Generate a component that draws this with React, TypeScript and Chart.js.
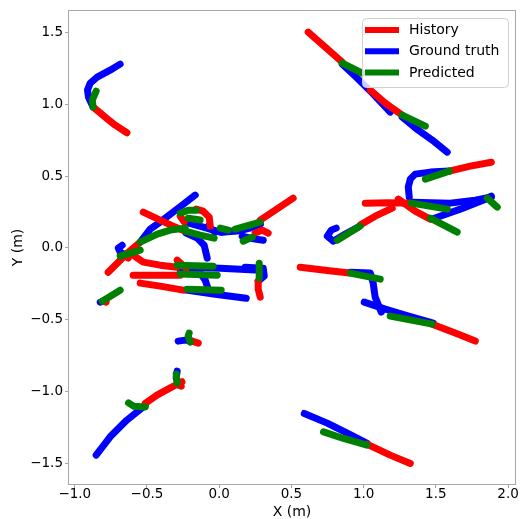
import React, { useEffect, useRef } from 'react';
import { Chart, registerables } from 'chart.js';

Chart.register(...registerables);

// ---- axes ----
const xTicks = [-1.0, -0.5, 0.0, 0.5, 1.0, 1.5, 2.0];
const yTicks = [-1.5, -1.0, -0.5, 0.0, 0.5, 1.0, 1.5];
const xLimits = [-1.04, 2.048];
const yLimits = [-1.644, 1.65];
const xTitle = 'X (m)';
const yTitle = 'Y (m)';
const seriesNames = ['History', 'Ground truth', 'Predicted'];
const seriesColors = ['#ff0000', '#0000ff', '#008000'];

// ---- trajectories (H = history, G = ground truth, P = predicted) ----
const a01H = [[-0.639, 0.802], [-0.720, 0.855], [-0.778, 0.902], [-0.873, 0.981]];
const a01G = [[-0.873, 0.981], [-0.905, 1.050], [-0.912, 1.099], [-0.893, 1.148], [-0.845, 1.189], [-0.755, 1.238], [-0.686, 1.280]];
const a01P = [[-0.873, 0.981], [-0.879, 1.029], [-0.852, 1.092]];

const a02H = [[0.616, 1.503], [0.734, 1.398], [0.852, 1.294]];
const a02G = [[0.852, 1.280], [0.942, 1.196], [1.060, 1.078], [1.184, 0.946]];
const a02P = [[0.852, 1.287], [0.990, 1.217]];

const a03H = [[1.046, 1.099], [1.150, 1.008], [1.267, 0.925]];
const a03G = [[1.267, 0.911], [1.378, 0.820], [1.475, 0.751], [1.579, 0.667]];
const a03P = [[1.267, 0.925], [1.427, 0.848]];

const a04H = [[1.884, 0.597], [1.738, 0.570], [1.593, 0.535]];
const a04G = [[1.593, 0.535], [1.461, 0.528], [1.357, 0.514], [1.323, 0.479], [1.309, 0.423], [1.316, 0.354]];
const a04P = [[1.593, 0.535], [1.427, 0.479]];

const a05H = [[1.011, 0.312], [1.170, 0.315], [1.330, 0.312]];
const a05G = [[1.337, 0.319], [1.600, 0.312], [1.773, 0.333], [1.877, 0.354]];
const a05P = [[1.330, 0.312], [1.579, 0.270]];

const a06H = [[1.240, 0.340], [1.357, 0.256], [1.461, 0.201]];
const a06G = [[1.475, 0.201], [1.669, 0.270], [1.884, 0.354]];
const a06P = [[1.461, 0.208], [1.648, 0.110]];

const a07H: number[][] = [];
const a07G = [[1.856, 0.347], [1.884, 0.361]];
const a07P = [[1.856, 0.347], [1.925, 0.284]];

const a08H = [[1.198, 0.277], [1.080, 0.221], [0.976, 0.159]];
const a08G = [[0.963, 0.145], [0.873, 0.096], [0.789, 0.047], [0.748, 0.082], [0.776, 0.124], [0.810, 0.138]];
const a08P = [[0.976, 0.152], [0.817, 0.054]];

const a09H = [[0.561, -0.134], [0.734, -0.155], [0.900, -0.175]];
const a09G = [[0.907, -0.169], [1.046, -0.175], [1.066, -0.245], [1.080, -0.343], [1.122, -0.447]];
const a09P = [[0.907, -0.175], [1.115, -0.217]];

const a10H = [[1.773, -0.649], [1.634, -0.593], [1.475, -0.531]];
const a10G = [[1.482, -0.524], [1.288, -0.467], [1.150, -0.426], [1.004, -0.377]];
const a10P = [[1.475, -0.531], [1.184, -0.475]];

const a11H = [[-0.769, -0.169], [-0.699, -0.099], [-0.637, -0.036], [-0.547, 0.040]];
const a11G = [[-0.547, 0.040], [-0.478, 0.131], [-0.409, 0.180], [-0.284, 0.277], [-0.166, 0.368]];
const a11P = [[-0.547, 0.040], [-0.429, 0.096], [-0.339, 0.124], [-0.235, 0.138]];

const a12H = [[-0.526, 0.249], [-0.409, 0.194], [-0.305, 0.145], [-0.235, 0.117]];
const a12G = [[-0.229, 0.103], [-0.152, 0.068], [-0.104, 0.019], [-0.083, -0.071]];
const a12P = [[-0.235, 0.117], [-0.132, 0.089], [-0.035, 0.068]];

const a13H = [[-0.630, -0.071], [-0.651, -0.057]];
const a13G = [[-0.644, -0.050], [-0.686, -0.029], [-0.699, -0.001], [-0.672, 0.019]];
const a13P = [[-0.686, -0.057], [-0.616, -0.036], [-0.547, -0.015]];

const a14H = [[-0.062, 0.152], [-0.069, 0.214], [-0.111, 0.256], [-0.159, 0.270]];
const a14G = [[-0.076, 0.152], [-0.028, 0.110]];
const a14P = [[-0.159, 0.263], [-0.215, 0.263], [-0.270, 0.242]];

const a15H = [[-0.270, 0.221], [-0.242, 0.180]];
const a15G = [[-0.235, 0.180], [-0.111, 0.145], [0.007, 0.110], [0.125, 0.117], [0.215, 0.138], [0.284, 0.166]];
const a15P = [[-0.215, 0.207], [-0.132, 0.194]];

const a16H = [[0.512, 0.347], [0.388, 0.263], [0.284, 0.194]];
const a16G = [[0.284, 0.166], [0.145, 0.124], [0.021, 0.110]];
const a16P = [[0.284, 0.180], [0.111, 0.131]];

const a17H: number[][] = [];
const a17G: number[][] = [];
const a17P = [[0.007, 0.138], [0.062, 0.124]];

const a18H = [[0.339, 0.103], [0.298, 0.124], [0.249, 0.103]];
const a18G = [[0.305, 0.054], [0.215, 0.068], [0.159, 0.082]];
const a18P = [[0.229, 0.075], [0.166, 0.047]];

const a19H = [[-0.596, -0.050], [-0.526, -0.099], [-0.409, -0.120], [-0.291, -0.134]];
const a19G = [[-0.229, -0.134], [0.007, -0.141], [0.284, -0.155]];
const a19P = [[-0.291, -0.120], [-0.042, -0.127]];

const a20H = [[-0.291, -0.085], [-0.229, -0.142]];
const a20G: number[][] = [];
const a20P: number[][] = [];

const a21H = [[-0.596, -0.190], [-0.443, -0.190], [-0.270, -0.190]];
const a21G = [[-0.270, -0.169], [-0.132, -0.175], [-0.097, -0.224], [-0.076, -0.287]];
const a21P = [[-0.270, -0.182], [-0.014, -0.190]];

const a22H = [[-0.547, -0.245], [-0.409, -0.266], [-0.249, -0.294]];
const a22G = [[-0.229, -0.294], [-0.028, -0.322], [0.187, -0.350]];
const a22P = [[-0.222, -0.287], [0.014, -0.294]];

const a23H = [[0.284, -0.343], [0.270, -0.287], [0.270, -0.231]];
const a23G = [[0.270, -0.231], [0.312, -0.196], [0.305, -0.141], [0.180, -0.134]];
const a23P = [[0.277, -0.210], [0.277, -0.106]];

const a24H = [[-0.783, -0.378], [-0.803, -0.371]];
const a24G = [[-0.803, -0.371], [-0.824, -0.378]];
const a24P = [[-0.810, -0.371], [-0.686, -0.294]];

const a25H = [[-0.145, -0.663], [-0.187, -0.649]];
const a25G = [[-0.187, -0.649], [-0.235, -0.642], [-0.284, -0.649]];
const a25P = [[-0.201, -0.656], [-0.215, -0.614], [-0.208, -0.593]];

const a26H = [[-0.258, -0.932], [-0.339, -0.975], [-0.431, -1.025], [-0.512, -1.083]];
const a26G = [[-0.512, -1.095], [-0.639, -1.199], [-0.755, -1.315], [-0.852, -1.443]];
const a26P = [[-0.512, -1.107], [-0.593, -1.102], [-0.628, -1.079]];

const a27H = [[-0.263, -0.962], [-0.270, -0.941]];
const a27G = [[-0.277, -0.955], [-0.298, -0.906], [-0.291, -0.858]];
const a27P = [[-0.291, -0.941], [-0.298, -0.878]];

const a28H = [[1.323, -1.501], [1.184, -1.443], [1.023, -1.366]];
const a28G = [[1.025, -1.361], [0.873, -1.283], [0.748, -1.220], [0.589, -1.153]];
const a28P = [[1.023, -1.373], [0.861, -1.327], [0.722, -1.281]];

const agents = [
  [a01H, a01G, a01P], [a02H, a02G, a02P], [a03H, a03G, a03P], [a04H, a04G, a04P],
  [a05H, a05G, a05P], [a06H, a06G, a06P], [a07H, a07G, a07P], [a08H, a08G, a08P],
  [a09H, a09G, a09P], [a10H, a10G, a10P], [a11H, a11G, a11P], [a12H, a12G, a12P],
  [a13H, a13G, a13P], [a14H, a14G, a14P], [a15H, a15G, a15P], [a16H, a16G, a16P],
  [a17H, a17G, a17P], [a18H, a18G, a18P], [a19H, a19G, a19P], [a20H, a20G, a20P],
  [a21H, a21G, a21P], [a22H, a22G, a22P], [a23H, a23G, a23P], [a24H, a24G, a24P],
  [a25H, a25G, a25P], [a26H, a26G, a26P], [a27H, a27G, a27P], [a28H, a28G, a28P],
];

const FONT = '"DejaVu Sans", sans-serif';
const fmt = (v: number) => (v < 0 ? '\u2212' : '') + Math.abs(v).toFixed(1);

const framePlugin = {
  id: 'frame',
  afterDatasetsDraw(chart: any) {
    const { ctx, chartArea } = chart;
    const { left, top, right, bottom } = chartArea;
    ctx.save();
    ctx.strokeStyle = '#a8a8a8';
    ctx.lineWidth = 1;
    ctx.strokeRect(left - 0.5, top - 0.5, right - left + 1, bottom - top + 1);
    ctx.restore();
  },
};

const legendPlugin = {
  id: 'mplLegend',
  afterDraw(chart: any) {
    const { ctx, chartArea } = chart;
    const bx = chartArea.right - 152.5;
    const by = chartArea.top + 7.5;
    const bw = 146;
    const bh = 69;
    ctx.save();
    ctx.beginPath();
    if (ctx.roundRect) ctx.roundRect(bx, by, bw, bh, 4);
    else ctx.rect(bx, by, bw, bh);
    ctx.fillStyle = 'rgba(255,255,255,0.8)';
    ctx.fill();
    ctx.strokeStyle = '#d0d0d0';
    ctx.lineWidth = 1;
    ctx.stroke();
    ctx.font = `14px ${FONT}`;
    ctx.textBaseline = 'middle';
    ctx.textAlign = 'left';
    seriesNames.forEach((name, i) => {
      const y = by + 11.5 + i * 21.3;
      ctx.beginPath();
      ctx.moveTo(bx + 2.5, y);
      ctx.lineTo(bx + 36.5, y);
      ctx.strokeStyle = seriesColors[i];
      ctx.lineWidth = 6;
      ctx.lineCap = 'butt';
      ctx.stroke();
      ctx.fillStyle = '#000';
      ctx.fillText(name, bx + 46.5, y + 0.5);
    });
    ctx.restore();
  },
};

export default function App() {
  const ref = useRef<HTMLCanvasElement>(null);

  useEffect(() => {
    if (!ref.current) return;
    const datasets: any[] = [];
    agents.forEach((tracks, i) => {
      tracks.forEach((pts, k) => {
        if (!pts.length) return;
        datasets.push({
          label: `${seriesNames[k]} ${i + 1}`,
          data: pts.map(([x, y]) => ({ x, y })),
          borderColor: seriesColors[k],
          backgroundColor: seriesColors[k],
          borderWidth: 7,
          borderCapStyle: 'round',
          borderJoinStyle: 'round',
          pointRadius: 0,
          pointHoverRadius: 0,
          showLine: true,
          tension: 0,
          order: k === 2 ? 0 : k === 0 ? 1 : 2,
        });
      });
    });

    const chart = new Chart(ref.current, {
      type: 'scatter',
      data: { datasets },
      plugins: [framePlugin, legendPlugin],
      options: {
        animation: false,
        responsive: false,
        devicePixelRatio: 1,
        layout: { padding: { top: 11, right: 6, bottom: 0, left: 0 } },
        plugins: { legend: { display: false }, tooltip: { enabled: false } },
        scales: {
          x: {
            type: 'linear',
            min: xLimits[0],
            max: xLimits[1],
            afterBuildTicks: (s: any) => { s.ticks = xTicks.map((v) => ({ value: v })); },
            afterFit: (s: any) => { s.height = 35; s.paddingLeft = 0; s.paddingRight = 0; },
            ticks: {
              callback: (v: any) => fmt(Number(v)),
              font: { family: FONT, size: 13.5, lineHeight: 1 },
              color: '#000',
              padding: 0,
              maxRotation: 0,
              autoSkip: false,
            },
            grid: { display: true, drawOnChartArea: false, drawTicks: true, tickLength: 4, color: '#a8a8a8' },
            border: { display: false },
            title: { display: true, text: xTitle, color: '#000', font: { family: FONT, size: 14, lineHeight: 1 }, padding: { top: 0, bottom: 0 } },
          },
          y: {
            type: 'linear',
            min: yLimits[0],
            max: yLimits[1],
            afterBuildTicks: (s: any) => { s.ticks = yTicks.map((v) => ({ value: v })); },
            afterFit: (s: any) => { s.width = 69; s.paddingTop = 0; s.paddingBottom = 0; },
            ticks: {
              callback: (v: any) => fmt(Number(v)),
              font: { family: FONT, size: 13.5, lineHeight: 1 },
              color: '#000',
              padding: 2,
              autoSkip: false,
            },
            grid: { display: true, drawOnChartArea: false, drawTicks: true, tickLength: 4, color: '#a8a8a8' },
            border: { display: false },
            title: { display: true, text: yTitle, color: '#000', font: { family: FONT, size: 14, lineHeight: 1 }, padding: { top: 11, bottom: 0 } },
          },
        },
      } as any,
    });
    return () => chart.destroy();
  }, []);

  return (
    <canvas
      ref={ref}
      width={521}
      height={519}
      style={{ position: 'fixed', left: 0, top: 0, width: 521, height: 519, background: '#fff' }}
    />
  );
}
